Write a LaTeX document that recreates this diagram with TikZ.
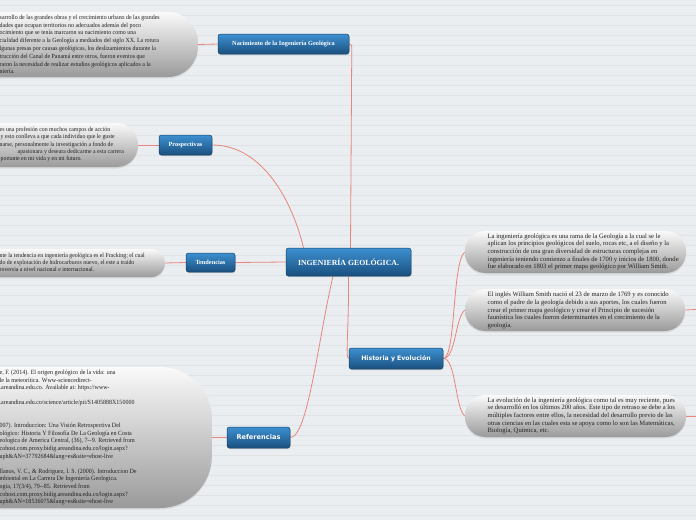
\documentclass[tikz,border=0pt]{standalone}
\usepackage{fontspec}
\setmainfont{Liberation Serif}
\newfontfamily\condserif{Liberation Serif}[FakeStretch=0.94]
\newfontfamily\sansbold{DejaVu Sans}
\usetikzlibrary{shadows,calc}
\definecolor{bgc}{HTML}{EAEEF0}
\definecolor{rulec}{HTML}{DDE3E6}
\definecolor{linkc}{HTML}{E8857D}
\definecolor{blueT}{HTML}{3D90D1}
\definecolor{blueM}{HTML}{246DA8}
\definecolor{blueB}{HTML}{1A4F7E}
\definecolor{blueE}{HTML}{174266}
\definecolor{grayT}{HTML}{FAFAFA}
\definecolor{grayM}{HTML}{DADADA}
\definecolor{grayB}{HTML}{9A9A9A}
\definecolor{txtc}{HTML}{222222}
\pgfdeclarelayer{back}
\pgfdeclarelayer{edges}
\pgfsetlayers{back,edges,main}
\tikzset{
  bluebox/.style={rectangle, rounded corners=2.5pt, draw=blueE, line width=0.5pt,
    top color=blueT, middle color=blueM, bottom color=blueB, text=white, inner sep=0pt,
    drop shadow={opacity=0.3, shadow xshift=0.6pt, shadow yshift=-1.2pt}},
  bubble/.style={rectangle, draw=none, top color=grayT, middle color=grayM, bottom color=grayB,
    inner sep=0pt, drop shadow={opacity=0.18, shadow xshift=0pt, shadow yshift=-1.5pt}},
  btext/.style={align=left, inner sep=0pt, text=txtc, font=\fontsize{6.6}{7.65}\selectfont},
  ltext/.style={align=left, inner sep=0pt, text=txtc},
  link/.style={draw=linkc, line width=0.8pt},
  serifhead/.style={font=\fontsize{6.3}{7}\selectfont\bfseries},
  sanshead/.style={font=\sansbold\fontsize{6.2}{7}\selectfont\bfseries},
}
\begin{document}
\begin{tikzpicture}[x=1pt,y=-1pt]
\useasboundingbox (0,0) rectangle (696,520);
\begin{pgfonlayer}{back}
\fill[bgc] (0,0) rectangle (696,520);
\foreach \k in {0,...,51} {
  \draw[rulec, line width=0.7pt] (0,5+10*\k) -- (696,5+10*\k);
}
\end{pgfonlayer}
\clip (0,0) rectangle (696,520);

% central
\node[bluebox, minimum width=125pt, minimum height=28pt, font=\fontsize{7.8}{9}\selectfont\bfseries] (c) at (348.5,262) {INGENIERÍA GEOLÓGICA.};

% branch nodes
\node[bluebox, serifhead, minimum width=131pt, minimum height=20pt] (n) at (283.5,44) {Nacimiento de la Ingeniería Geológica};
\node[bluebox, serifhead, minimum width=53pt, minimum height=20pt] (p) at (185.5,145) {Prospectivas};
\node[bluebox, serifhead, minimum width=49pt, minimum height=19pt] (t) at (210.5,262.5) {Tendencias};
\node[bluebox, sanshead, minimum width=94pt, minimum height=21pt] (h) at (396,358.5) {Historia y Evolución};
\node[bluebox, sanshead, font=\sansbold\fontsize{6.6}{7}\selectfont\bfseries, minimum width=63pt, minimum height=21pt] (r) at (258.5,437.5) {Referencias};

% bubbles
\node[bubble, rounded corners=30pt, minimum width=280pt, minimum height=65pt, anchor=east] (bt) at (198,44.5) {};
\node[bubble, rounded corners=21pt, minimum width=220pt, minimum height=44pt, anchor=east] (bp) at (138,145) {};
\node[bubble, rounded corners=13.5pt, minimum width=240pt, minimum height=28pt, anchor=east] (btd) at (165,263) {};
\node[bubble, rounded corners=20.5pt, minimum width=221pt, minimum height=42pt] (b1) at (575.5,252) {};
\node[bubble, rounded corners=20.5pt, minimum width=220pt, minimum height=42pt] (b2) at (575,310) {};
\node[bubble, rounded corners=20.5pt, minimum width=221pt, minimum height=42pt] (b3) at (575.5,416) {};
\node[bubble, rounded corners=52pt, minimum width=300pt, minimum height=141pt, anchor=east] (bref) at (212,437.5) {};

% texts
\node[ltext, anchor=west, font=\condserif\fontsize{6.3}{7.8}\selectfont] (tt) at (-0.5,44.5) {sarrollo de las grandes obras y el crecimiento urbano de las grandes\\
dades que ocupan territorios no adecuados además del poco\\
ocimiento que se tenía marcaron su nacimiento como una\\
cialidad diferente a la Geología a mediados del siglo XX. La rotura\\
lgunas presas por causas geológicas, los deslizamientos durante la\\
trucción del Canal de Panamá entre otros, fueron eventos que\\
raron la necesidad de realizar estudios geológicos aplicados a la\\
niería.};
\node[ltext, anchor=west, font=\condserif\fontsize{6.2}{7.4}\selectfont] (tp) at (-0.5,144.5) {es una profesión con muchos campos de acción\\
\hspace*{1pt}y esto conlleva a que cada individuo que le guste\\
narse, personalmente la investigación a fondo de\\
\hspace*{18pt}apasionara y deseara dedicarme a esta carrera\\
\hspace*{1pt}portante en mi vida y en mi futuro.};
\node[ltext, anchor=west, font=\condserif\fontsize{6.2}{7.1}\selectfont] (ttd) at (-0.5,262) {nte la tendencia en ingeniería geológica es el Fracking; el cual\\
do de explotación de hidrocarburos nuevo, el este a traído\\
roversia a nivel nacional e internacional.};
\node[btext, anchor=west] (t1) at (487.5,252) {La ingeniería geológica es una rama de la Geología a la cual se le\\
aplican los principios geológicos del suelo, rocas etc, a el diseño y la\\
construcción de una gran diversidad de estructuras complejas en\\
ingeniería teniendo comienzo a finales de 1700 y inicios de 1800, donde\\
fue elaborado en 1803 el primer mapa geológico por William Smith.};
\node[btext, anchor=west] (t2) at (487.5,310.5) {El inglés William Smith nació el 23 de marzo de 1769 y es conocido\\
como el padre de la geología debido a sus aportes, los cuales fueron\\
crear el primer mapa geológico y crear el Principio de sucesión\\
faunística los cuales fueron determinantes en el crecimiento de la\\
geología.};
\node[btext, anchor=west] (t3) at (487.5,416) {La evolución de la ingeniería geológica como tal es muy reciente, pues\\
se desarrolló en los últimos 200 años. Este tipo de retraso se debe a los\\
múltiples factores entre ellos, la necesidad del desarrollo previo de las\\
otras ciencias en las cuales esta se apoya como lo son las Matemáticas,\\
Biología, Química, etc.};
\node[ltext, anchor=west, font=\condserif\fontsize{6.4}{7.6}\selectfont] (tr) at (-0.5,437.5) {e, F. (2014). El origen geológico de la vida: una\\
le la meteorítica. Www-sciencedirect-\\
.areandina.edu.co. Available at: https://www-\\[7.6pt]
.areandina.edu.co/science/article/pii/S1405888X150000\\[15.2pt]
007). Introduccion: Una Visión Retrospectiva Del\\
ológico: Historia Y Filosofía De La Geología en Costa\\
eologica de America Central, (36), 7--9. Retrieved from\\
cohost.com.proxy.bidig.areandina.edu.co/login.aspx?\\
uph\&AN=37792684\&lang=es\&site=ehost-live\\[7.6pt]
llanos, V. C., \& Rodriguez, I. S. (2000). Introduccion De\\
mbiental en La Carrera De Ingeniería Geologica.\\
ogia, 17(3/4), 79--85. Retrieved from\\
cohost.com.proxy.bidig.areandina.edu.co/login.aspx?\\
uph\&AN=18536075\&lang=es\&site=ehost-live};

\coordinate (e2) at (696,309.5);
\coordinate (e3) at (696,416);

\begin{pgfonlayer}{edges}
\draw[link] ($(c.north)+(2,0)$) -- ($(n.east)+(2.5,8)$) to[out=90,in=0] (n.east);
\draw[link] (p.east) .. controls (262,145) and (292,200) .. ($(c.north)+(-45,0)$);
\draw[link] (t.east) -- (c.west);
\draw[link] (c.south) .. controls (349,330) and (345,358) .. (h.west);
\draw[link] ($(c.south)+(-15.5,0)$) .. controls (318,340) and (308,437) .. (r.east);
\draw[link] (h.east) .. controls (456,358) and (452,262) .. (b1.west);
\draw[link] (h.east) .. controls (456,358) and (455,318) .. (b2.west);
\draw[link] (h.east) .. controls (456,358) and (455,408) .. (b3.west);
\draw[link] (b2.east) -- (e2);
\draw[link] (b3.east) -- (e3);
\draw[link] (bt.east) -- (n.west);
\draw[link] (bp.east) -- (p.west);
\draw[link] (btd.east) -- (t.west);
\draw[link] (bref.east) -- (r.west);
\end{pgfonlayer}
\end{tikzpicture}
\end{document}
